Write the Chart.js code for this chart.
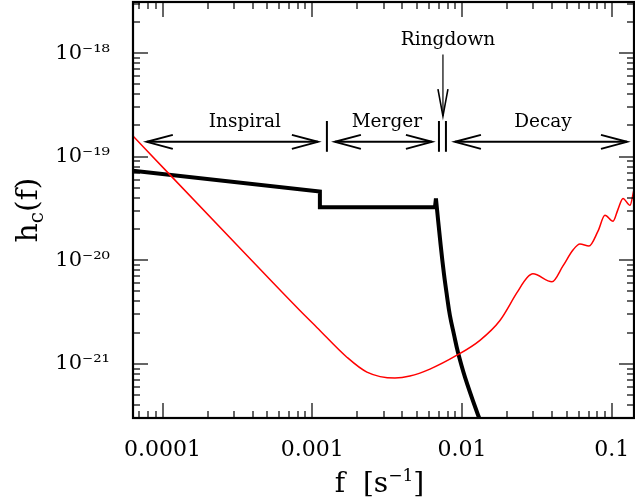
<!DOCTYPE html>
<html>
<head>
<meta charset="utf-8">
<title>Characteristic strain</title>
<script src="https://cdn.jsdelivr.net/npm/chart.js@4.4.1/dist/chart.umd.min.js"></script>
<style>
body { margin: 0; background: #fff; }
canvas { display: block; }
</style>
</head>
<body>
<canvas id="hcChart" width="635" height="501"></canvas>
<script>
// detector noise curve (red)
const noiseFreq = [6.35e-5, 1.085e-4, 3.233e-4, 8.265e-4, 1.073e-3, 1.702e-3, 2.315e-3, 3.563e-3, 4.487e-3,
    6.104e-3, 9.247e-3, 1.317e-2, 1.791e-2, 2.326e-2, 2.714e-2, 2.976e-2, 3.987e-2, 4.721e-2, 5.506e-2,
    6.132e-2, 7.041e-2, 8.087e-2, 9.007e-2, 0.1019, 0.110, 0.1188, 0.1323, 0.1407];
const noiseStrain = [1.585e-19, 7.01e-20, 1.341e-20, 3.268e-21, 2.246e-21, 1.159e-21, 8.325e-22, 7.295e-22, 7.62e-22,
    8.897e-22, 1.211e-21, 1.687e-21, 2.622e-21, 4.862e-21, 6.767e-21, 7.39e-21, 6.194e-21, 8.817e-21, 1.255e-20,
    1.432e-20, 1.371e-20, 1.909e-20, 2.716e-20, 2.378e-20, 3.1e-20, 3.95e-20, 3.386e-20, 4.818e-20];

// binary signal: inspiral, then merger plateau up to the ringdown spike
const signalFreq = [6.35e-5, 1.124e-3, 1.124e-3, 6.592e-3, 6.694e-3];
const signalStrain = [7.328e-20, 4.61e-20, 3.239e-20, 3.239e-20, 3.95e-20];

// ringdown decay tail
const decayFreq = [6.694e-3, 7.194e-3, 7.571e-3, 7.927e-3, 8.30e-3, 8.829e-3, 9.389e-3, 1.046e-2, 1.277e-2, 1.358e-2];
const decayStrain = [3.95e-20, 1.41e-20, 7.39e-21, 4.55e-21, 2.928e-21, 1.925e-21, 1.295e-21, 7.458e-22, 3.226e-22, 2.588e-22];

const xTickValues = [1e-4, 1e-3, 1e-2, 1e-1];
const xTickLabels = ['0.0001', '0.001', '0.01', '0.1'];
const yTickValues = [1e-21, 1e-20, 1e-19, 1e-18];
const yTickLabels = ['10⁻²¹', '10⁻²⁰', '10⁻¹⁹', '10⁻¹⁸'];

const X_MIN = 6.35e-5, X_MAX = 0.1407;
const Y_MIN = 3.21e-22, Y_MAX = 3.11e-18;

const SERIF = "'DejaVu Serif', 'Liberation Serif', serif";

const pts = (xs, ys) => xs.map((x, i) => ({x: x, y: ys[i]}));

// 1..9 x 10^n between lo and hi, decades marked major
function decadeTicks(lo, hi) {
    const ticks = [];
    const e0 = Math.floor(Math.log10(lo));
    const e1 = Math.ceil(Math.log10(hi));
    for (let e = e0; e <= e1; e++) {
        for (let m = 1; m <= 9; m++) {
            const v = m * Math.pow(10, e);
            if (v >= lo && v <= hi) ticks.push({value: v, major: m === 1});
        }
    }
    return ticks;
}

function labelFor(values, labels) {
    return (v) => {
        const i = values.findIndex(t => Math.abs(t / v - 1) < 1e-6);
        return i < 0 ? null : labels[i];
    };
}

function seg(c, x0, y0, x1, y1) {
    c.beginPath();
    c.moveTo(x0, y0);
    c.lineTo(x1, y1);
    c.stroke();
}

// inward ticks on all four sides + box
const frameTicks = {
    id: 'frameTicks',
    afterDraw(chart) {
        const c = chart.ctx;
        const a = chart.chartArea;
        const sx = chart.scales.x, sy = chart.scales.y;
        c.save();
        c.fillStyle = '#000';
        decadeTicks(X_MIN, X_MAX).forEach(t => {
            const px = Math.round(sx.getPixelForValue(t.value));
            const len = t.major ? 15 : 7;
            c.fillRect(px - 0.6, a.bottom - len, 1.2, len);
            c.fillRect(px - 0.6, a.top, 1.2, len);
        });
        decadeTicks(Y_MIN, Y_MAX).forEach(t => {
            const py = Math.round(sy.getPixelForValue(t.value));
            const len = t.major ? 15 : 7;
            c.fillRect(a.left, py - 0.6, len, 1.2);
            c.fillRect(a.right - len, py - 0.6, len, 1.2);
        });
        c.strokeStyle = '#000';
        c.lineWidth = 2.2;
        c.strokeRect(a.left, a.top, a.right - a.left, a.bottom - a.top);
        c.restore();
    }
};

function arrowHead(c, tx, ty, dx, dy, len, half) {
    // open V head pointing along (dx, dy)
    const bx = tx - dx * len, by = ty - dy * len;
    c.beginPath();
    c.moveTo(bx - dy * half, by + dx * half);
    c.lineTo(tx, ty);
    c.lineTo(bx + dy * half, by - dx * half);
    c.stroke();
}

// phase labels and arrows
const phases = {
    id: 'phases',
    afterDraw(chart) {
        const c = chart.ctx;
        const X = v => chart.scales.x.getPixelForValue(v);
        const Y = v => chart.scales.y.getPixelForValue(v);
        c.save();
        c.strokeStyle = '#000';
        c.fillStyle = '#000';

        const ay = Y(1.389e-19);
        const spans = [[7.853e-5, 1.09e-3], [1.416e-3, 6.295e-3], [8.966e-3, 0.1263]];
        c.lineWidth = 2;
        spans.forEach(([f0, f1]) => {
            const x0 = X(f0), x1 = X(f1);
            seg(c, x0, ay, x1, ay);
            arrowHead(c, x0, ay, -1, 0, 26, 7);
            arrowHead(c, x1, ay, 1, 0, 26, 7);
        });

        // separators between phases
        const sTop = Y(2.208e-19), sBot = Y(1.114e-19);
        [1.252e-3, 7.012e-3, 7.807e-3].forEach(f => seg(c, X(f), sTop, X(f), sBot));

        // ringdown pointer
        c.lineWidth = 1.2;
        const rx = X(7.456e-3), r0 = Y(9.674e-19), r1 = Y(2.465e-19);
        seg(c, rx, r0, rx, r1);
        c.lineWidth = 1.6;
        arrowHead(c, rx, r1, 0, 1, 27, 5);

        c.font = '18.5px ' + SERIF;
        c.textAlign = 'center';
        c.textBaseline = 'alphabetic';
        const ly = Y(1.934e-19);
        c.fillText('Inspiral', X(3.546e-4), ly);
        c.fillText('Merger', X(3.147e-3), ly);
        c.fillText('Decay', X(3.471e-2), ly);
        c.fillText('Ringdown', X(8.054e-3), Y(1.206e-18));
        c.restore();
    }
};

// axis titles with sub/superscripts
const axisTitles = {
    id: 'axisTitles',
    afterDraw(chart) {
        const c = chart.ctx;
        const a = chart.chartArea;
        c.save();
        c.fillStyle = '#000';
        c.textBaseline = 'alphabetic';
        c.textAlign = 'left';

        // f [s^-1]
        const big = '28px ' + SERIF, sup = '17px ' + SERIF;
        const parts = [['f', big, 0], ['  [', big, 0], ['s', big, 0], ['\u2212' + '1', sup, -11], [']', big, 0]];
        let w = 0;
        parts.forEach(p => { c.font = p[1]; w += c.measureText(p[0]).width; });
        let cx = (a.left + a.right) / 2 - w / 2 - 4;
        parts.forEach(p => {
            c.font = p[1];
            c.fillText(p[0], cx, 492 + p[2]);
            cx += c.measureText(p[0]).width;
        });

        // h_c(f), rotated
        c.translate(37, (a.top + a.bottom) / 2);
        c.rotate(-Math.PI / 2);
        const yparts = [['h', '30px ' + SERIF, 0], ['c', '20px ' + SERIF, 6], ['(f)', '30px ' + SERIF, 0]];
        w = 0;
        yparts.forEach(p => { c.font = p[1]; w += c.measureText(p[0]).width; });
        cx = -w / 2;
        yparts.forEach(p => {
            c.font = p[1];
            c.fillText(p[0], cx, p[2]);
            cx += c.measureText(p[0]).width;
        });
        c.restore();
    }
};

const ctx = document.getElementById('hcChart').getContext('2d');

const chart = new Chart(ctx, {
    type: 'line',
    data: {
        datasets: [
            {
                data: pts(noiseFreq, noiseStrain),
                borderColor: '#ff0000',
                borderWidth: 1.5,
                pointRadius: 0,
                cubicInterpolationMode: 'monotone'
            },
            {
                data: pts(signalFreq, signalStrain),
                borderColor: '#000',
                borderWidth: 4,
                pointRadius: 0,
                tension: 0,
                borderJoinStyle: 'miter'
            },
            {
                data: pts(decayFreq, decayStrain),
                borderColor: '#000',
                borderWidth: 4,
                pointRadius: 0,
                tension: 0.4
            }
        ]
    },
    options: {
        responsive: false,
        animation: false,
        devicePixelRatio: 1,
        layout: { padding: { top: 2, right: 1, left: 0, bottom: 0 } },
        plugins: {
            legend: { display: false },
            tooltip: { enabled: false }
        },
        scales: {
            x: {
                type: 'logarithmic',
                min: X_MIN,
                max: X_MAX,
                grid: { display: false },
                border: { display: false },
                afterBuildTicks: (s) => { s.ticks = decadeTicks(X_MIN, X_MAX); },
                afterFit: (s) => { s.height = 83; s.paddingLeft = 0; s.paddingRight = 0; },
                ticks: {
                    autoSkip: false,
                    maxRotation: 0,
                    padding: 11,
                    color: '#000',
                    font: { family: SERIF, size: 22 },
                    callback: labelFor(xTickValues, xTickLabels)
                }
            },
            y: {
                type: 'logarithmic',
                min: Y_MIN,
                max: Y_MAX,
                grid: { display: false },
                border: { display: false },
                afterBuildTicks: (s) => { s.ticks = decadeTicks(Y_MIN, Y_MAX); },
                afterFit: (s) => { s.width = 133; s.paddingTop = 0; s.paddingBottom = 0; },
                ticks: {
                    autoSkip: false,
                    padding: 15,
                    color: '#000',
                    font: { family: SERIF, size: 21 },
                    callback: labelFor(yTickValues, yTickLabels)
                }
            }
        }
    },
    plugins: [frameTicks, phases, axisTitles]
});
</script>
</body>
</html>
